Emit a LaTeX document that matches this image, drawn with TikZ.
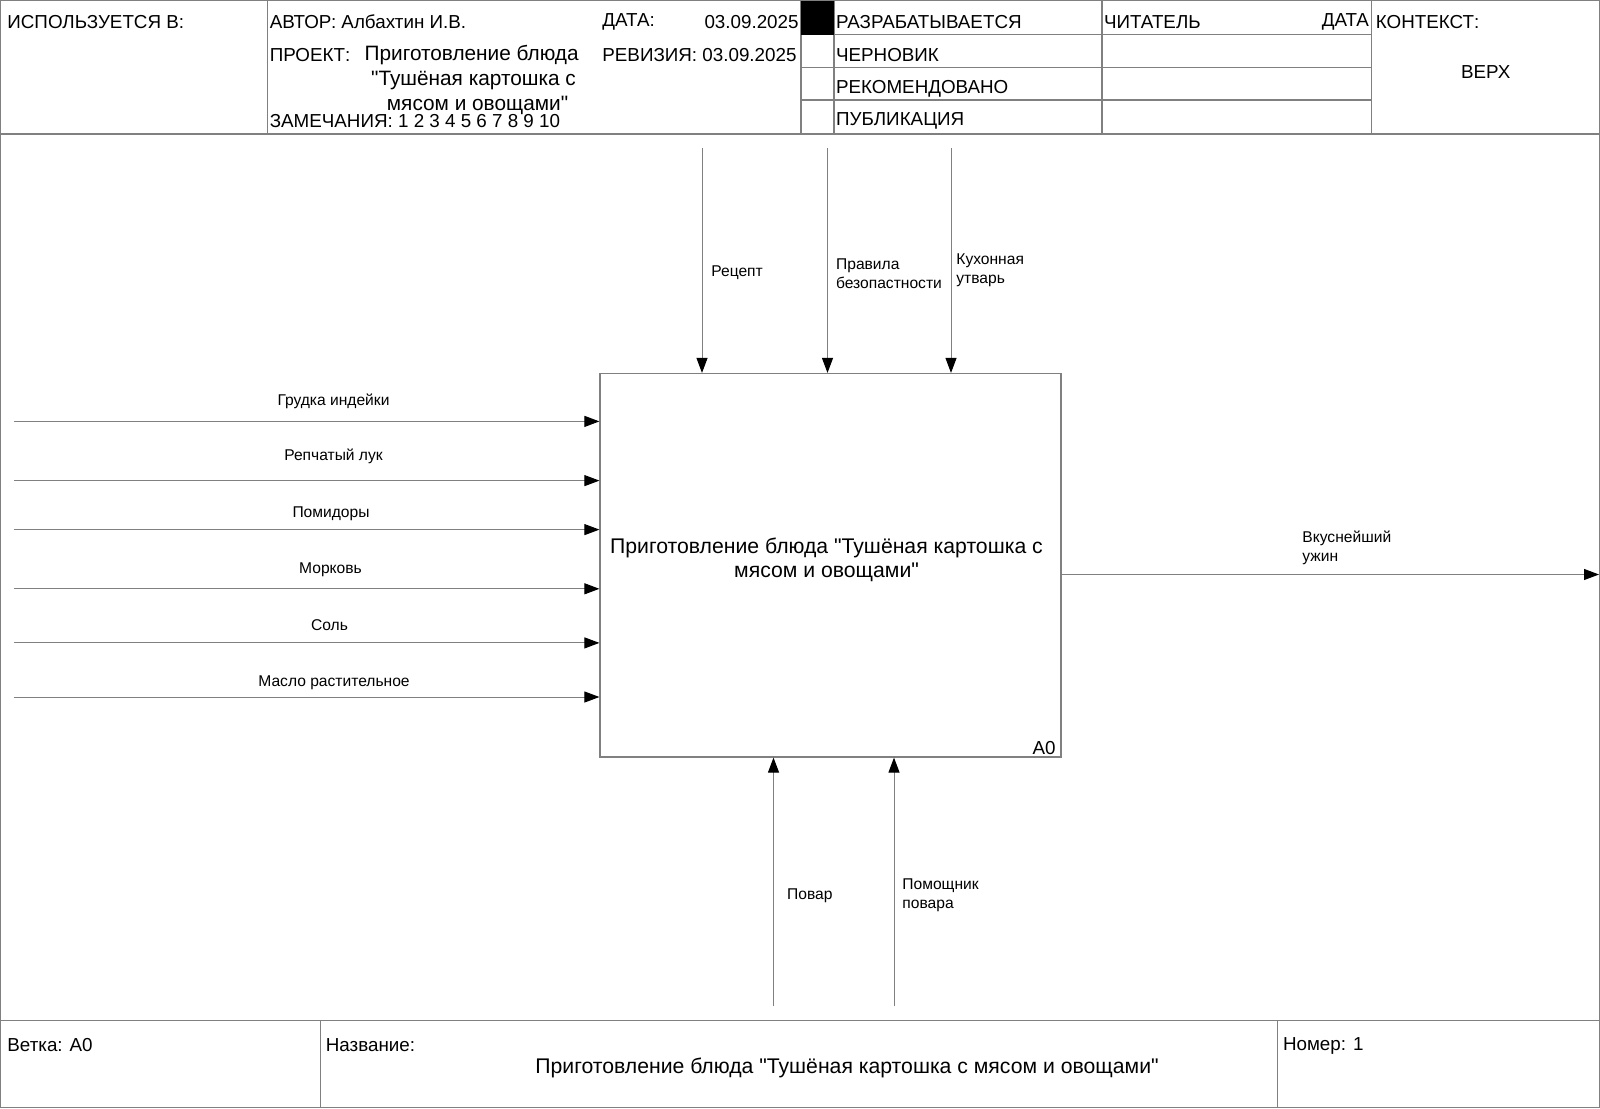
\documentclass[tikz,border=0pt]{standalone}
\usepackage{fontspec}
\setmainfont{Liberation Sans}[Ligatures=TeXOff]
\usetikzlibrary{arrows.meta}
\definecolor{linegray}{RGB}{128,128,128}
\begin{document}
\begin{tikzpicture}[x=0.5pt,y=-0.5pt,
  frame/.style={draw=linegray, line width=0.6pt},
  flow/.style={draw=linegray, line width=0.5pt, -{Triangle[length=7.5pt,width=5.5pt,black]}},
  hdr/.style={inner sep=0pt, font=\fontsize{9.4}{11}\selectfont},
  prj/.style={inner sep=0pt, font=\fontsize{10.4}{12}\selectfont},
  lbl/.style={inner sep=0pt, font=\fontsize{7.8}{9.75}\selectfont, align=left},
  ttl/.style={inner sep=0pt, font=\fontsize{10.6}{12.25}\selectfont, align=center}]
\useasboundingbox (0,0) rectangle (1600,1108);
\fill[white] (0,0) rectangle (1600,1108);
% outer frame and header
\draw[frame] (0.5,0.5) rectangle (1599.5,1107.5);
\draw[frame] (0.5,134) -- (1599.5,134);
\draw[frame] (267.3,0.5) -- (267.3,134);
\draw[frame] (801,0.5) -- (801,134);
\draw[frame] (834,0.5) -- (834,134);
\draw[frame] (1102,0.5) -- (1102,134);
\draw[frame] (1371.5,0.5) -- (1371.5,134);
\draw[frame] (801,34.7) -- (1371.5,34.7);
\draw[frame] (801,67.3) -- (1371.5,67.3);
\draw[frame] (801,100) -- (1371.5,100);
\fill[black] (801,1) rectangle (834,34.7);
% header texts
\node[hdr, anchor=west] (used) at (7,21.8) {ИСПОЛЬЗУЕТСЯ В:};
\node[hdr, anchor=west] (author) at (269.4,21.8) {АВТОР: Албахтин И.В.};
\node[hdr, anchor=west] (date) at (602,21.8) {ДАТА:};
\node[hdr, anchor=east] (dateval) at (799,21.8) {03.09.2025};
\node[hdr, anchor=west] (proj) at (269.4,55.5) {ПРОЕКТ:};
\node[prj, anchor=west] (proj1) at (364.3,55.5) {Приготовление блюда};
\node[prj] (proj2) at (473.5,81) {"Тушёная картошка с};
\node[prj] (proj3) at (477.5,105.5) {мясом и овощами"};
\node[hdr, anchor=west] (notes) at (269.4,121.4) {ЗАМЕЧАНИЯ: 1 2 3 4 5 6 7 8 9 10};
\node[hdr, anchor=west] (rev) at (602,55.5) {РЕВИЗИЯ: 03.09.2025};
\node[hdr, anchor=west] (st1) at (835.7,21.8) {РАЗРАБАТЫВАЕТСЯ};
\node[hdr, anchor=west] (st2) at (835.7,55.5) {ЧЕРНОВИК};
\node[hdr, anchor=west] (st3) at (835.7,88.5) {РЕКОМЕНДОВАНО};
\node[hdr, anchor=west] (st4) at (835.7,121) {ПУБЛИКАЦИЯ};
\node[hdr, anchor=west] (reader) at (1103.6,21.8) {ЧИТАТЕЛЬ};
\node[hdr, anchor=east] (rdate) at (1369.4,21.8) {ДАТА};
\node[hdr, anchor=west] (ctx) at (1375.5,21.8) {КОНТЕКСТ:};
\node[hdr] (top) at (1485.7,72.5) {ВЕРХ};
% footer
\draw[frame] (0.5,1020.4) -- (1599.5,1020.4);
\draw[frame] (320.4,1020.4) -- (320.4,1107.5);
\draw[frame] (1277.6,1020.4) -- (1277.6,1107.5);
\node[hdr, anchor=west] (branch) at (7,1045.5) {Ветка: A0};
\node[hdr, anchor=west] (name) at (325.5,1045.5) {Название:};
\node[ttl] (ftitle) at (847,1068) {Приготовление блюда "Тушёная картошка с мясом и овощами"};
\node[hdr, anchor=west] (num) at (1282.6,1045.5) {Номер: 1};
% main box
\node[frame, minimum width=230.5pt, minimum height=191.75pt, inner sep=0pt] (box) at (830.5,565.25) {};
\node[ttl] (boxtext) at (826.5,560) {Приготовление блюда "Тушёная картошка с\\мясом и овощами"};
\node[hdr, anchor=east] (a0) at (1056,748) {A0};
% controls
\coordinate (c1) at (702,148);
\coordinate (c2) at (827.5,148);
\coordinate (c3) at (951,148);
\draw[flow] (c1) -- (c1 |- box.north);
\draw[flow] (c2) -- (c2 |- box.north);
\draw[flow] (c3) -- (c3 |- box.north);
\node[lbl, anchor=west] (lc1) at (711,273) {Рецепт};
\node[lbl, anchor=west] (lc2) at (835.7,273.5) {Правила\\безопастности};
\node[lbl, anchor=west] (lc3) at (956,270) {Кухонная\\утварь};
% inputs
\coordinate (i1) at (14.3,421.4);
\coordinate (i2) at (14.3,480.6);
\coordinate (i3) at (14.3,529.6);
\coordinate (i4) at (14.3,588.8);
\coordinate (i5) at (14.3,642.9);
\coordinate (i6) at (14.3,697);
\draw[flow] (i1) -- (i1 -| box.west);
\draw[flow] (i2) -- (i2 -| box.west);
\draw[flow] (i3) -- (i3 -| box.west);
\draw[flow] (i4) -- (i4 -| box.west);
\draw[flow] (i5) -- (i5 -| box.west);
\draw[flow] (i6) -- (i6 -| box.west);
\node[lbl] (li1) at (333.5,401) {Грудка индейки};
\node[lbl] (li2) at (333.5,456) {Репчатый лук};
\node[lbl] (li3) at (331,514) {Помидоры};
\node[lbl] (li4) at (330.5,570) {Морковь};
\node[lbl] (li5) at (329.5,625.5) {Соль};
\node[lbl] (li6) at (334,682.5) {Масло растительное};
% output
\coordinate (o1) at (1599,574.5);
\draw[flow] (o1 -| box.east) -- (o1);
\node[lbl, anchor=west] (lo1) at (1302,548) {Вкуснейший\\ужин};
% mechanisms
\coordinate (m1) at (773.5,1006);
\coordinate (m2) at (894,1006);
\draw[flow] (m1) -- (m1 |- box.south);
\draw[flow] (m2) -- (m2 |- box.south);
\node[lbl, anchor=west] (lm1) at (786.7,895.5) {Повар};
\node[lbl, anchor=west] (lm2) at (902,895) {Помощник\\повара};
\end{tikzpicture}
\end{document}
